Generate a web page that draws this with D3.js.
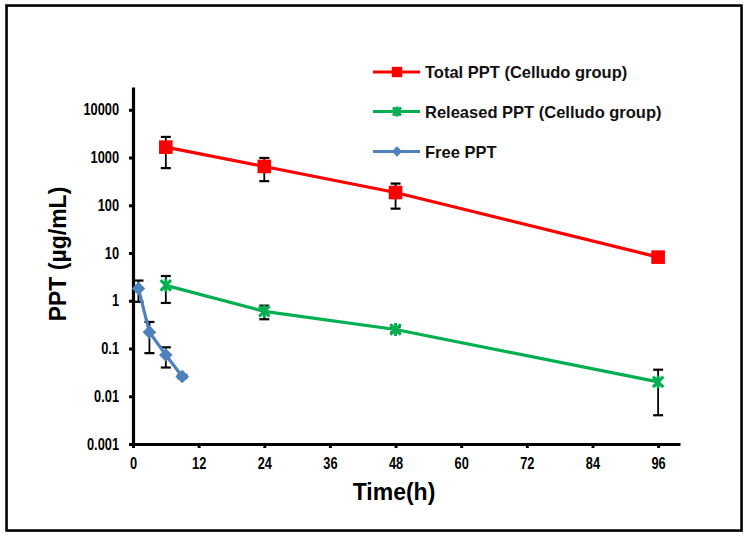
<!DOCTYPE html>
<html>
<head>
<meta charset="utf-8">
<script src="https://cdn.jsdelivr.net/npm/d3@7"></script>
<style>
  html, body { margin: 0; padding: 0; background: #fff; }
  svg { display: block; }
</style>
</head>
<body>
<svg id="chart" width="750" height="536"></svg>
<script>
// ---- Data ----
const xTicks = [0, 12, 24, 36, 48, 60, 72, 84, 96];
const yTicks = [0.001, 0.01, 0.1, 1, 10, 100, 1000, 10000];
const yTickLabels = ["0.001", "0.01", "0.1", "1", "10", "100", "1000", "10000"];

const seriesNames = ["Total PPT (Celludo group)", "Released PPT (Celludo group)", "Free PPT"];

const totalTime = [6, 24, 48, 96];
const totalMean = [1650, 650, 185, 8.2];
const totalErr  = [1050, 330, 100, 1.5];

const releasedTime = [6, 24, 48, 96];
const releasedMean = [2.1, 0.6, 0.25, 0.02];
const releasedErr  = [1.2, 0.19, 0.03, 0.016];

const freeTime = [1, 3, 6, 9];
const freeMean = [1.8, 0.22, 0.073, 0.026];
const freeErr  = [0.85, 0.14, 0.033, 0.002];

const xTitle = "Time(h)";
const yTitle = "PPT (µg/mL)";

// ---- Setup ----
const svg = d3.select("#chart");

const x = d3.scaleLinear().domain([0, 100]).range([133, 680]);
const y = d3.scaleLog().domain([0.001, 30000]).range([444, 87]);

const mainFont = "'Liberation Sans', Arial, sans-serif";

// Outer frame
svg.append("rect").attr("x", 7.5).attr("y", 6.5).attr("width", 735).attr("height", 525)
  .attr("fill", "none").attr("stroke", "#aaa").attr("stroke-width", 1);
svg.append("rect").attr("x", 6.5).attr("y", 5.5).attr("width", 735).attr("height", 525)
  .attr("fill", "none").attr("stroke", "#000").attr("stroke-width", 2.5);

// Axes
const gx = svg.append("g").attr("transform", `translate(0,${y(0.001)})`)
  .call(d3.axisBottom(x).tickValues(xTicks).tickSize(4).tickSizeOuter(0).tickPadding(7)
    .tickFormat(d3.format("d")));
const gy = svg.append("g").attr("transform", `translate(${x(0)},0)`)
  .call(d3.axisLeft(y).tickValues(yTicks).tickSize(4).tickSizeOuter(0).tickPadding(13.5)
    .tickFormat((d, i) => yTickLabels[i]));

[gx, gy].forEach(g => {
  g.select(".domain").attr("stroke", "#000").attr("stroke-width", 3.2);
  g.selectAll(".tick line").attr("stroke", "#000").attr("stroke-width", 3);
  g.selectAll(".tick text").attr("fill", "#000")
    .style("font-family", mainFont).style("font-weight", "bold").style("font-size", "16px")
    .attr("transform", "scale(0.8,1)");
});
gx.selectAll(".tick text").attr("dy", "0.85em");

// Axis titles
svg.append("text").attr("x", 394).attr("y", 500).attr("text-anchor", "middle")
  .style("font-family", mainFont).style("font-weight", "bold").style("font-size", "23px")
  .text(xTitle);
svg.append("text").attr("transform", "translate(66,254) rotate(-90)").attr("text-anchor", "middle")
  .style("font-family", mainFont).style("font-weight", "bold").style("font-size", "23px")
  .text(yTitle);

// Series config
const colors = ["#ff0000", "#00b050", "#4f81bd"];
const series = [
  { t: totalTime, m: totalMean, e: totalErr, color: colors[0], marker: "square" },
  { t: releasedTime, m: releasedMean, e: releasedErr, color: colors[1], marker: "star" },
  { t: freeTime, m: freeMean, e: freeErr, color: colors[2], marker: "diamond" }
];

function drawMarker(g, type, cx, cy, color, s) {
  if (type === "square") {
    g.append("rect").attr("x", cx - s).attr("y", cy - s).attr("width", 2 * s).attr("height", 2 * s)
      .attr("fill", color);
  } else if (type === "diamond") {
    g.append("path").attr("d", `M${cx},${cy - s}L${cx + s},${cy}L${cx},${cy + s}L${cx - s},${cy}Z`)
      .attr("fill", color);
  } else {
    const a = s * 0.8;
    g.append("path")
      .attr("d", `M${cx - a},${cy - a}L${cx + a},${cy + a}M${cx - a},${cy + a}L${cx + a},${cy - a}M${cx},${cy - s}L${cx},${cy + s}`)
      .attr("stroke", color).attr("stroke-width", 3).attr("fill", "none");
  }
}

const line = d3.line().x(d => x(d[0])).y(d => y(d[1]));

series.forEach(s => {
  const g = svg.append("g");
  const pts = s.t.map((t, i) => [t, s.m[i], s.e[i]]);
  // error bars
  pts.forEach(p => {
    const lo = Math.max(p[1] - p[2], 0.0011), hi = p[1] + p[2];
    const cx = x(p[0]);
    g.append("line").attr("x1", cx).attr("x2", cx).attr("y1", y(lo)).attr("y2", y(hi))
      .attr("stroke", "#000").attr("stroke-width", 1.8);
    [lo, hi].forEach(v => {
      g.append("line").attr("x1", cx - 5).attr("x2", cx + 5).attr("y1", y(v)).attr("y2", y(v))
        .attr("stroke", "#000").attr("stroke-width", 2.2);
    });
  });
  g.append("path").datum(pts).attr("d", line)
    .attr("fill", "none").attr("stroke", s.color).attr("stroke-width", 3.2);
  const size = s.marker === "star" ? 6.5 : 6.8;
  pts.forEach(p => drawMarker(g, s.marker, x(p[0]), y(p[1]), s.color, size));
});

// Legend
const legY = [72, 111.5, 151.5];
series.forEach((s, i) => {
  const g = svg.append("g");
  g.append("line").attr("x1", 373).attr("x2", 420).attr("y1", legY[i]).attr("y2", legY[i])
    .attr("stroke", s.color).attr("stroke-width", 3.2);
  drawMarker(g, s.marker, 397, legY[i], s.color, s.marker === "star" ? 5 : 5.2);
  g.append("text").attr("x", 425).attr("y", legY[i] + 6)
    .style("font-family", mainFont).style("font-weight", "bold").style("font-size", "16.5px")
    .attr("fill", "#111").text(seriesNames[i]);
});
</script>
</body>
</html>
